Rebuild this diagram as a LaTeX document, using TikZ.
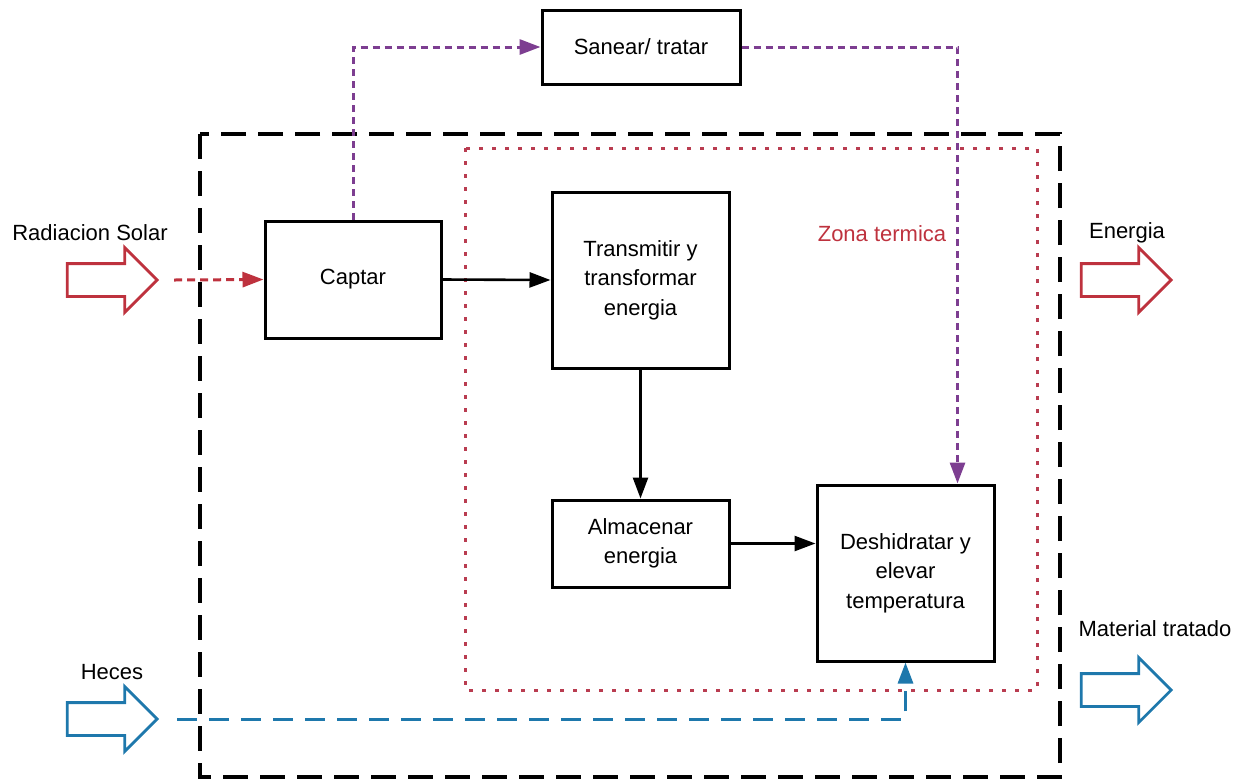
\documentclass[tikz,border=0pt]{standalone}
\usepackage{fontspec}
\setmainfont{Liberation Sans}
\usetikzlibrary{arrows.meta,shapes.arrows}
\definecolor{cred}{RGB}{190,50,62}
\definecolor{cdot}{RGB}{185,60,80}
\definecolor{cblue}{RGB}{30,120,172}
\definecolor{cpurple}{RGB}{125,62,145}
\tikzset{
  txt/.style={font=\fontsize{22}{29.5}\selectfont, align=center, inner sep=0pt},
  box/.style={draw=black, line width=3pt, fill=white, txt},
  blockarrow/.style={single arrow, draw, line width=2.8pt, minimum height=90pt,
     minimum width=62pt, single arrow head extend=16pt, inner xsep=0pt, inner ysep=15pt, shape border rotate=0},
  arr/.style={line width=2.6pt, -{Triangle[length=21pt,width=15pt]}},
  darr/.style={arr, line width=3pt},
}
\begin{document}
\begin{tikzpicture}[x=1pt,y=-1pt]
\useasboundingbox (0,0) rectangle (1249,780);
% regions
\draw[line width=3.2pt, dash pattern=on 25pt off 12pt] (200,134) rectangle (1060,777);
\draw[cdot, line width=3pt, dash pattern=on 4pt off 9pt] (465,148) rectangle (1037,690);
% boxes
\node[box, minimum width=198pt, minimum height=74pt] (sanear) at (641,47) {Sanear/ tratar};
\node[box, minimum width=176pt, minimum height=117pt] (captar) at (353,279.5) {Captar};
\node[box, minimum width=177pt, minimum height=176pt] (trans) at (640.5,280) {Transmitir y\\transformar\\energia};
\node[box, minimum width=177pt, minimum height=87pt] (alm) at (640.5,543.5) {Almacenar\\energia};
\node[box, minimum width=177pt, minimum height=176pt] (desh) at (905.5,573) {Deshidratar y\\elevar\\temperatura};
% block arrows
\node[blockarrow, draw=cred] (rad) at (104,280) {};
\node[blockarrow, draw=cred] (ener) at (1118,280) {};
\node[blockarrow, draw=cblue] (heces) at (104,719) {};
\node[blockarrow, draw=cblue] (mat) at (1118,690) {};
% labels
\node[txt] (lrad) at (90,233) {Radiacion Solar};
\node[txt] (lener) at (1127,233) {Energia};
\node[txt] (lheces) at (112,672) {Heces};
\node[txt] (lmat) at (1155,629) {Material tratado};
\node[txt, text=cred] (lzona) at (882,234) {Zona termica};
% connectors
\draw[darr, cred, dash pattern=on 8pt off 5pt] ([xshift=15pt]rad.tip) -- (captar.west);
\draw[arr] (captar.east) -- (trans.west);
\draw[arr] (trans.south) -- (alm.north);
\draw[arr] (alm.east) -- (alm.east -| desh.west);
\draw[darr, cpurple, dash pattern=on 7pt off 5pt] (captar.north) |- (sanear.west);
\draw[darr, cpurple, dash pattern=on 7pt off 5pt] (sanear.east) -| ([xshift=52pt]desh.north);
\draw[darr, cblue, dash pattern=on 20pt off 12pt] ([xshift=18pt]heces.tip) -| (desh.south);
\end{tikzpicture}
\end{document}
